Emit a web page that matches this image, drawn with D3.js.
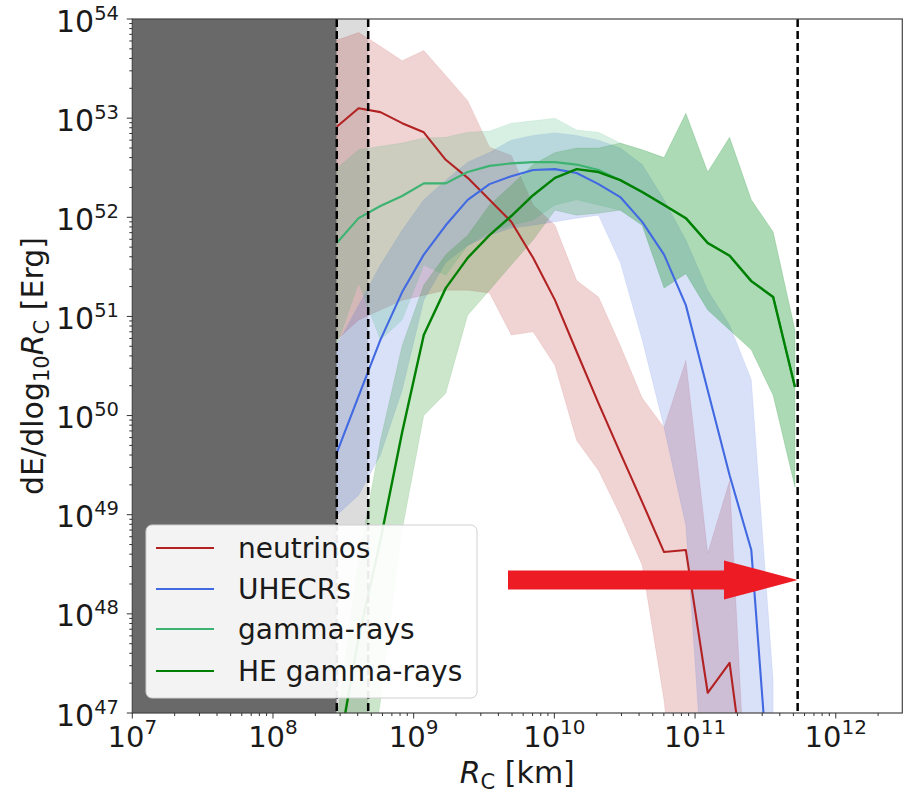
<!DOCTYPE html>
<html>
<head>
<meta charset="utf-8">
<script src="https://cdn.jsdelivr.net/npm/d3@7"></script>
<style>
  html, body { margin: 0; padding: 0; background: #fff; }
  svg { display: block; font-family: "DejaVu Sans", sans-serif; }
</style>
</head>
<body>
<svg id="chart" width="906" height="793"></svg>
<script>
// Radius bins R_C [km]
const rc = [2.84e8, 4.06e8, 5.80e8, 8.28e8, 1.18e9, 1.69e9, 2.42e9, 3.46e9, 4.94e9, 7.06e9,
            1.01e10, 1.44e10, 2.06e10, 2.94e10, 4.21e10, 6.02e10, 8.60e10, 1.23e11, 1.76e11,
            2.51e11, 3.59e11, 5.13e11];

// dE/dlog10 R_C [erg] : median and band limits per messenger
const neutrinos     = [8.2e52, 1.26e53, 1.15e53, 8.9e52, 7.2e52, 3.8e52, 2.5e52, 1.5e52, 9.0e51, 3.9e51,
                       1.46e51, 4.4e50, 1.33e50, 4.2e49, 1.34e49, 4.2e48, 4.4e48, 1.6e47, 3.2e47, 7e45];
const neutrinosHigh = [6.1e53, 7.3e53, 5.3e53, 3.8e53, 4.8e53, 2.7e53, 1.5e53, 5.1e52, 4.2e52, 1.33e52,
                       8.3e51, 2.3e51, 1.57e51, 5.1e50, 1.5e50, 7.6e49, 3.6e50, 4.1e48, 2.2e49, 1.3e45];
const neutrinosLow  = [5.8e50, 9.2e50, 1.16e51, 1.46e51, 1.64e51, 1.84e51, 1.84e51, 1.72e51, 6.5e50, 7.0e50,
                       3.2e50, 5.6e49, 2.8e49, 9.9e48, 3.1e48, 1.34e47, 1e45, 1e45, 1e45, 1e45];

const uhecrs     = [4.2e49, 1.57e50, 5.8e50, 1.76e51, 4.2e51, 8.3e51, 1.5e52, 2.16e52, 2.6e52, 3.0e52,
                    3.06e52, 2.8e52, 2.16e52, 1.6e52, 9.0e51, 4.2e51, 1.3e51, 1.8e50, 2.5e49, 4.4e48, 5e45];
const uhecrsHigh = [5.1e50, 1.3e51, 3.3e51, 7.4e51, 1.5e52, 2.37e52, 3.6e52, 4.5e52, 6.0e52, 6.7e52,
                    7.1e52, 6.7e52, 6.0e52, 5.0e52, 3.4e52, 1.5e52, 5.9e51, 1.84e51, 8.2e50, 2.3e50, 2.1e47];
const uhecrsLow  = [9.9e48, 1.57e49, 4.0e49, 1.8e50, 1.46e51, 3.5e51, 5.2e51, 6.6e51, 7.8e51, 8.3e51,
                    9.0e51, 9.8e51, 1.05e52, 3.5e51, 5.8e50, 7.6e49, 7.8e48, 4e45, 1e45, 1e45, 1e45];

const gammaRays     = [5.5e51, 9.8e51, 1.3e52, 1.64e52, 2.2e52, 2.2e52, 2.86e52, 3.3e52, 3.5e52, 3.6e52,
                       3.6e52, 3.4e52, 3.0e52, 2.37e52, 1.8e52, 1.33e52, 9.8e51, 5.5e51, 4.1e51, 2.27e51,
                       1.57e51, 1.94e50];
const gammaRaysHigh = [3.1e52, 4.8e52, 5.2e52, 5.6e52, 6.3e52, 6.4e52, 7.2e52, 7.4e52, 8.9e52, 9.4e52,
                       1.0e53, 7.6e52, 7.2e52, 5.6e52, 4.8e52, 4.0e52, 1.12e53, 2.86e52, 6.4e52, 1.5e52,
                       7.1e51, 7.3e50];
const gammaRaysLow  = [5.1e50, 2.17e51, 5.8e50, 9.2e50, 3.3e51, 2.6e51, 5.2e51, 7.1e51, 8.3e51, 9.4e51,
                       1.33e52, 1.5e52, 1.33e52, 1.18e52, 8.3e51, 1.93e51, 2.7e51, 1.16e51, 7.3e50, 4.6e50,
                       1.6e50, 1.9e49];

const heGamma     = [3.3e46, 5.7e47, 5.5e48, 6.8e49, 6.5e50, 1.93e51, 3.9e51, 6.6e51, 1.03e52, 1.67e52,
                     2.5e52, 3.06e52, 2.86e52, 2.37e52, 1.8e52, 1.33e52, 9.8e51, 5.5e51, 4.1e51, 2.27e51,
                     1.57e51, 1.94e50];
const heGammaHigh = [8.4e46, 3.5e48, 5.6e49, 5.1e50, 2.07e51, 4.2e51, 6.6e51, 1.33e52, 2.1e52, 3.4e52,
                     4.5e52, 5.0e52, 5.0e52, 5.6e52, 4.8e52, 4.0e52, 1.12e53, 2.86e52, 6.4e52, 1.5e52,
                     7.1e51, 7.3e50];
const heGammaLow  = [1e45, 4e45, 1.3e47, 7e48, 1.0e50, 1.68e50, 1.03e51, 1.84e51, 3.3e51, 5.9e51,
                     1.18e52, 1.05e52, 1.1e52, 1.18e52, 8.3e51, 1.93e51, 2.7e51, 1.16e51, 7.3e50, 4.6e50,
                     1.6e50, 1.9e49];

const seriesNames = ["neutrinos", "UHECRs", "gamma-rays", "HE gamma-rays"];
const seriesColors = ["#b22222", "#4169e1", "#3cb371", "#008000"];

// Excluded / boundary radii [km]
const excludedMax = 2.84e8;
const innerBoundary = 4.75e8;
const outerBoundary = 5.36e11;

const xTickExps = [7, 8, 9, 10, 11, 12];
const yTickExps = [47, 48, 49, 50, 51, 52, 53, 54];

const svg = d3.select("#chart");
const plotL = 132.3, plotR = 902.3, plotT = 19, plotB = 713;

const x = d3.scaleLog().domain([1e7, Math.pow(10, 12.473)]).range([plotL, plotR]);
const y = d3.scaleLog().domain([1e47, 1e54]).range([plotB, plotT]);

svg.append("defs").append("clipPath").attr("id", "plotClip")
  .append("rect").attr("x", plotL).attr("y", plotT).attr("width", plotR - plotL).attr("height", plotB - plotT);

const plot = svg.append("g").attr("clip-path", "url(#plotClip)");

// shaded radius ranges
plot.append("rect")
  .attr("x", x(1e7)).attr("y", plotT)
  .attr("width", x(excludedMax) - x(1e7)).attr("height", plotB - plotT)
  .attr("fill", "#696969");
plot.append("rect")
  .attr("x", x(excludedMax)).attr("y", plotT)
  .attr("width", x(innerBoundary) - x(excludedMax)).attr("height", plotB - plotT)
  .attr("fill", "#dcdcdc");

const bands = [
  { lo: neutrinosLow, hi: neutrinosHigh, mid: neutrinos, color: seriesColors[0] },
  { lo: uhecrsLow, hi: uhecrsHigh, mid: uhecrs, color: seriesColors[1] },
  { lo: gammaRaysLow, hi: gammaRaysHigh, mid: gammaRays, color: seriesColors[2] },
  { lo: heGammaLow, hi: heGammaHigh, mid: heGamma, color: seriesColors[3] }
];

const area = d3.area()
  .x(d => x(d.r))
  .y0(d => y(d.lo))
  .y1(d => y(d.hi));

bands.forEach(b => {
  const pts = b.lo.map((v, i) => ({ r: rc[i], lo: v, hi: b.hi[i] }));
  plot.append("path").datum(pts)
    .attr("d", area)
    .attr("fill", b.color)
    .attr("fill-opacity", 0.2)
    .attr("stroke", b.color)
    .attr("stroke-opacity", 0.12)
    .attr("stroke-width", 0.8);
});

const line = d3.line().x(d => x(d.r)).y(d => y(d.v));
bands.forEach((b, k) => {
  const pts = b.mid.map((v, i) => ({ r: rc[i], v }));
  plot.append("path").datum(pts)
    .attr("d", line)
    .attr("fill", "none")
    .attr("stroke", b.color)
    .attr("stroke-width", k === 3 ? 2.4 : 2.1)
    .attr("stroke-linejoin", "round");
});

// boundary markers
[excludedMax, innerBoundary, outerBoundary].forEach(r => {
  plot.append("line")
    .attr("x1", x(r)).attr("x2", x(r))
    .attr("y1", plotT).attr("y2", plotB)
    .attr("stroke", "#000")
    .attr("stroke-width", 2.5)
    .attr("stroke-dasharray", "8,4");
});

// frame
svg.append("rect")
  .attr("x", plotL).attr("y", plotT).attr("width", plotR - plotL).attr("height", plotB - plotT)
  .attr("fill", "none").attr("stroke", "#444").attr("stroke-width", 1.2);

// ticks
const axisG = svg.append("g").attr("stroke", "#333").attr("stroke-width", 1);
xTickExps.forEach(e => {
  for (let m = 1; m <= 9; m++) {
    const v = m * Math.pow(10, e);
    if (v > x.domain()[1]) break;
    const px = x(v);
    axisG.append("line").attr("x1", px).attr("x2", px)
      .attr("y1", plotB).attr("y2", plotB + (m === 1 ? 5.5 : 3));
  }
});
yTickExps.forEach(e => {
  for (let m = 1; m <= 9; m++) {
    const v = m * Math.pow(10, e);
    if (v > 1e54 * 1.0001) break;
    const py = y(v);
    axisG.append("line").attr("x1", plotL).attr("x2", plotL - (m === 1 ? 5.5 : 3))
      .attr("y1", py).attr("y2", py);
  }
});

// tick labels
xTickExps.forEach(e => {
  const t = svg.append("text")
    .attr("x", x(Math.pow(10, e)))
    .attr("y", 747)
    .attr("text-anchor", "middle")
    .attr("font-size", 29)
    .attr("fill", "#1a1a1a");
  t.append("tspan").text("10");
  t.append("tspan").attr("dy", -13).attr("font-size", 20).text(e);
});
yTickExps.forEach(e => {
  const t = svg.append("text")
    .attr("x", 119)
    .attr("y", y(Math.pow(10, e)) + 12.5)
    .attr("text-anchor", "end")
    .attr("font-size", 30)
    .attr("fill", "#1a1a1a");
  t.append("tspan").text("10");
  t.append("tspan").attr("dy", -12).attr("font-size", 19.5).text(e);
});

// axis titles
const xl = svg.append("text")
  .attr("x", (plotL + plotR) / 2).attr("y", 783)
  .attr("text-anchor", "middle").attr("font-size", 30).attr("fill", "#1a1a1a");
xl.append("tspan").attr("font-style", "italic").text("R");
xl.append("tspan").attr("font-size", 21).attr("dy", 6).text("C");
xl.append("tspan").attr("dy", -6).text(" [km]");

const yl = svg.append("text")
  .attr("transform", `translate(43,${(plotT + plotB) / 2}) rotate(-90)`)
  .attr("text-anchor", "middle").attr("font-size", 30).attr("fill", "#1a1a1a");
yl.append("tspan").text("dE/dlog");
yl.append("tspan").attr("font-size", 21).attr("dy", 6).text("10");
yl.append("tspan").attr("dy", -6).attr("font-style", "italic").text("R");
yl.append("tspan").attr("font-size", 21).attr("dy", 6).text("C");
yl.append("tspan").attr("dy", -6).text(" [Erg]");

// legend
const lg = svg.append("g");
lg.append("rect")
  .attr("x", 146).attr("y", 525).attr("width", 331).attr("height", 173).attr("rx", 6)
  .attr("fill", "#fff").attr("fill-opacity", 0.92)
  .attr("stroke", "#d0d0d0").attr("stroke-width", 1);
const legendY = [548, 589, 629, 671];
seriesNames.forEach((name, i) => {
  lg.append("line")
    .attr("x1", 156).attr("x2", 214)
    .attr("y1", legendY[i]).attr("y2", legendY[i])
    .attr("stroke", seriesColors[i]).attr("stroke-width", 2.2);
  lg.append("text")
    .attr("x", 238).attr("y", legendY[i] + 10)
    .attr("font-size", 28).attr("fill", "#1a1a1a")
    .text(name);
});

// arrow toward the outer boundary
const arrowY = 580;
const ax0 = 508, axHead = 724, axTip = x(outerBoundary);
svg.append("path")
  .attr("d", `M${ax0},${arrowY - 9.5} L${axHead},${arrowY - 9.5} L${axHead},${arrowY - 19.5}
              L${axTip},${arrowY} L${axHead},${arrowY + 19.5} L${axHead},${arrowY + 9.5}
              L${ax0},${arrowY + 9.5} Z`)
  .attr("fill", "#ed1c24");
</script>
</body>
</html>
